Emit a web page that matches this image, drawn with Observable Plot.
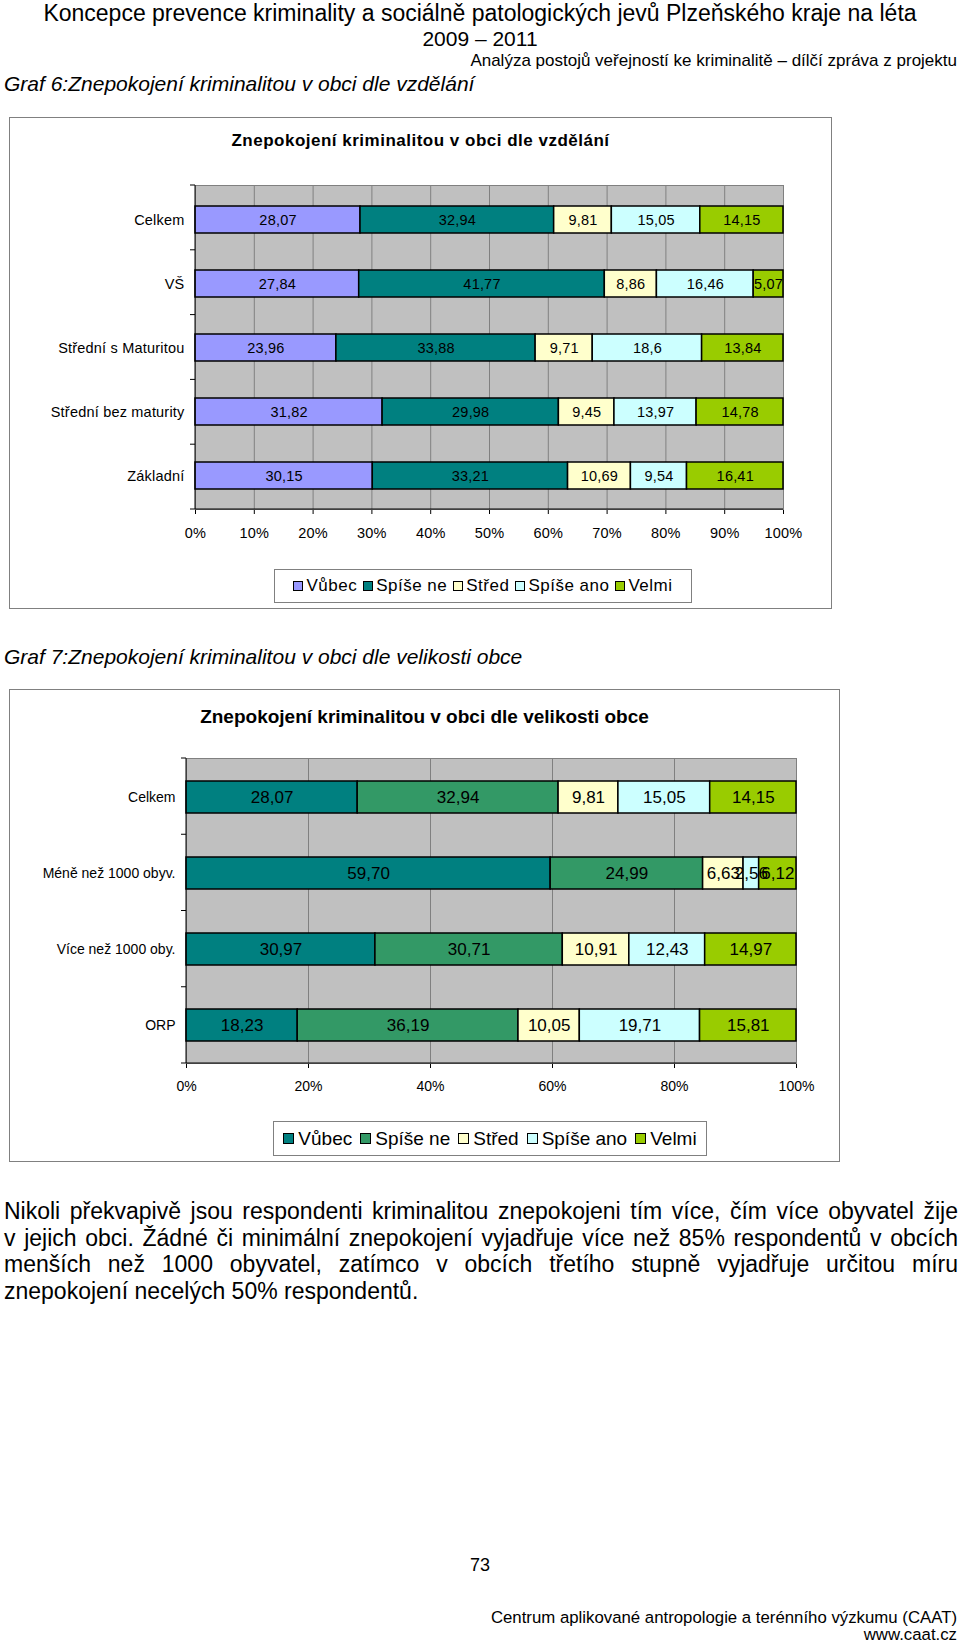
<!DOCTYPE html>
<html><head><meta charset="utf-8">
<script src="https://cdn.jsdelivr.net/npm/d3@7"></script>
<script src="https://cdn.jsdelivr.net/npm/@observablehq/plot@0.6"></script>
<style>
body{margin:0;background:#fff;font-family:"Liberation Sans",Arial,sans-serif;color:#000;}
#page{position:relative;width:960px;height:1641px;overflow:hidden;background:#fff;}
.abs{position:absolute;white-space:nowrap;}
.frame{position:absolute;box-sizing:border-box;border:1px solid #808080;background:#fff;}
.legend{position:absolute;box-sizing:border-box;border:1px solid #808080;background:#fff;display:flex;align-items:center;justify-content:center;}
.legend .it{display:flex;align-items:center;}
.legend .sw{display:inline-block;box-sizing:border-box;border:1px solid #000;}
.pline{position:absolute;left:4px;width:954px;font-size:23px;line-height:27px;white-space:nowrap;}
.just{text-align:justify;text-align-last:justify;}
</style></head><body><div id="page"></div>
<script>
const FONT = '"Liberation Sans", Arial, sans-serif';
const series = ["Vůbec", "Spíše ne", "Střed", "Spíše ano", "Velmi"];

// Graf 6 – podle vzdělání
const eduCategories = ["Celkem", "VŠ", "Střední s Maturitou", "Střední bez maturity", "Základní"];
const eduCelkem = ["28,07", "32,94", "9,81", "15,05", "14,15"];
const eduVS = ["27,84", "41,77", "8,86", "16,46", "5,07"];
const eduSM = ["23,96", "33,88", "9,71", "18,6", "13,84"];
const eduSB = ["31,82", "29,98", "9,45", "13,97", "14,78"];
const eduZakl = ["30,15", "33,21", "10,69", "9,54", "16,41"];
const eduColors = ["#9999ff", "#008080", "#ffffcc", "#ccffff", "#99cc00"];
const eduTickLabels = ["0%", "10%", "20%", "30%", "40%", "50%", "60%", "70%", "80%", "90%", "100%"];

// Graf 7 – podle velikosti obce
const sizeCategories = ["Celkem", "Méně než 1000 obyv.", "Více než 1000 oby.", "ORP"];
const sizeCelkem = ["28,07", "32,94", "9,81", "15,05", "14,15"];
const sizeMene = ["59,70", "24,99", "6,63", "2,56", "6,12"];
const sizeVice = ["30,97", "30,71", "10,91", "12,43", "14,97"];
const sizeORP = ["18,23", "36,19", "10,05", "19,71", "15,81"];
const sizeColors = ["#008080", "#339966", "#ffffcc", "#ccffff", "#99cc00"];
const sizeTickLabels = ["0%", "20%", "40%", "60%", "80%", "100%"];

const num = s => +String(s).replace(",", ".").replace("%", "");
function makeData(categories, rows) {
  return categories.flatMap((c, i) => rows[i].map((v, j) => ({category: c, series: series[j], value: num(v), label: v})));
}

// axis lines + category boundary ticks (Excel style), computed from the plot's dimensions
function excelAxes(nCats) {
  return (index, scales, values, dims) => {
    const {width, height, marginTop, marginRight, marginBottom, marginLeft} = dims;
    const yTop = marginTop, yBot = height - marginBottom, xL = marginLeft, xR = width - marginRight;
    const step = (yBot - yTop) / nCats;
    const g = d3.create("svg:g").attr("stroke", "#000").attr("stroke-width", 1);
    g.append("line").attr("x1", xL).attr("x2", xL).attr("y1", yTop).attr("y2", yBot);
    g.append("line").attr("x1", xL).attr("x2", xR).attr("y1", yBot).attr("y2", yBot);
    for (let i = 0; i <= nCats; i++) {
      const y = yTop + i * step;
      g.append("line").attr("x1", xL - 5).attr("x2", xL).attr("y1", y).attr("y2", y);
    }
    return g.node();
  };
}

function chart({categories, rows, colors, tickLabels, width, height, margins, fontSize, valueSize, tickPadding, letterSpacing, padding}) {
  const data = makeData(categories, rows);
  const ticks = tickLabels.map(t => num(t) / 100);
  return Plot.plot({
    width, height,
    marginLeft: margins[0], marginRight: margins[1], marginTop: margins[2], marginBottom: margins[3],
    style: {fontFamily: FONT, fontSize: fontSize + "px", color: "#000", background: "transparent", overflow: "visible", letterSpacing: letterSpacing + "px"},
    x: {domain: [0, 1], ticks, tickFormat: d => tickLabels[ticks.indexOf(d)] ?? "", tickSize: 5, tickPadding, label: null},
    y: {domain: categories, paddingInner: padding, paddingOuter: padding / 2, tickSize: 0, tickPadding: 11, label: null},
    color: {domain: series, range: colors},
    marks: [
      Plot.frame({fill: "#c0c0c0", stroke: "#808080"}),
      Plot.ruleX(ticks, {stroke: "#808080", strokeWidth: 1}),
      Plot.barX(data, Plot.stackX({x: "value", y: "category", fill: "series", offset: "normalize", stroke: "#000", strokeWidth: 1.5})),
      Plot.text(data, Plot.stackX({x: "value", y: "category", z: "series", offset: "normalize", text: "label", fontSize: valueSize, fill: "#000"})),
      excelAxes(categories.length)
    ]
  });
}

function legend(colors, {fontSize, sw, swGap, itemGap, letterSpacing}) {
  const el = document.createElement("div");
  el.className = "legend";
  el.style.fontSize = fontSize + "px";
  el.style.gap = itemGap + "px";
  el.style.letterSpacing = letterSpacing + "px";
  series.forEach((s, i) => {
    const it = document.createElement("span");
    it.className = "it";
    const box = document.createElement("span");
    box.className = "sw";
    Object.assign(box.style, {background: colors[i], width: sw + "px", height: sw + "px", marginRight: swGap + "px"});
    it.appendChild(box);
    it.appendChild(document.createTextNode(s));
    el.appendChild(it);
  });
  return el;
}

const page = document.getElementById("page");
function put(el, css) { Object.assign(el.style, css); page.appendChild(el); return el; }
function txt(text, css, cls = "abs") { const d = document.createElement("div"); d.className = cls; d.textContent = text; return put(d, css); }

// header
txt("Koncepce prevence kriminality a sociálně patologických jevů Plzeňského kraje na léta", {left: "0px", width: "960px", top: "0px", lineHeight: "26px", fontSize: "23px", textAlign: "center"});
txt("2009 – 2011", {left: "0px", width: "960px", top: "26px", lineHeight: "26px", fontSize: "21px", textAlign: "center"});
txt("Analýza postojů veřejností ke kriminalitě – dílčí zpráva z projektu", {right: "3px", top: "51px", lineHeight: "20px", fontSize: "17px"});
txt("Graf 6:Znepokojení kriminalitou v obci dle vzdělání", {left: "4px", top: "72px", lineHeight: "24px", fontSize: "21px", fontStyle: "italic"});

// chart 1
const f1 = document.createElement("div"); f1.className = "frame";
put(f1, {left: "9px", top: "117px", width: "823px", height: "492px"});
txt("Znepokojení kriminalitou v obci dle vzdělání", {left: "9px", width: "823px", top: "130px", lineHeight: "22px", fontSize: "17px", fontWeight: "bold", textAlign: "center", letterSpacing: "0.5px"});
const c1 = chart({categories: eduCategories, rows: [eduCelkem, eduVS, eduSM, eduSB, eduZakl], colors: eduColors, tickLabels: eduTickLabels,
  width: 832, height: 385, margins: [195, 49, 15, 46], fontSize: 14.5, valueSize: 14.5, tickPadding: 13, letterSpacing: 0.2, padding: 0.58});
put(c1, {position: "absolute", left: "0px", top: "170px"});
put(legend(eduColors, {fontSize: 17, sw: 10, swGap: 3, itemGap: 6, letterSpacing: 0.5}), {left: "274px", top: "569px", width: "418px", height: "34px"});

// chart 2
txt("Graf 7:Znepokojení kriminalitou v obci dle velikosti obce", {left: "4px", top: "645px", lineHeight: "24px", fontSize: "21px", fontStyle: "italic"});
const f2 = document.createElement("div"); f2.className = "frame";
put(f2, {left: "9px", top: "689px", width: "831px", height: "473px"});
txt("Znepokojení kriminalitou v obci dle velikosti obce", {left: "9px", width: "831px", top: "705px", lineHeight: "24px", fontSize: "19px", fontWeight: "bold", textAlign: "center"});
const c2 = chart({categories: sizeCategories, rows: [sizeCelkem, sizeMene, sizeVice, sizeORP], colors: sizeColors, tickLabels: sizeTickLabels,
  width: 840, height: 370, margins: [186, 44, 13, 52], fontSize: 14, valueSize: 17, tickPadding: 13, letterSpacing: 0, padding: 0.58});
put(c2, {position: "absolute", left: "0px", top: "745px"});
put(legend(sizeColors, {fontSize: 19, sw: 11, swGap: 4, itemGap: 8, letterSpacing: 0}), {left: "273px", top: "1121px", width: "434px", height: "35px"});

// paragraph
const lines = [
  "Nikoli překvapivě jsou respondenti kriminalitou znepokojeni tím více, čím více obyvatel žije",
  "v jejich obci. Žádné či minimální znepokojení vyjadřuje více než 85% respondentů v obcích",
  "menších než 1000 obyvatel, zatímco v obcích třetího stupně vyjadřuje určitou míru",
  "znepokojení necelých 50% respondentů."
];
lines.forEach((l, i) => txt(l, {top: (1198 + i * 26.7) + "px"}, i < 3 ? "pline just" : "pline"));

// footer
txt("73", {left: "0px", width: "960px", top: "1554px", lineHeight: "22px", fontSize: "18px", textAlign: "center"});
txt("Centrum aplikované antropologie a terénního výzkumu (CAAT)", {right: "3px", top: "1608px", lineHeight: "20px", fontSize: "16.8px"});
txt("www.caat.cz", {right: "3px", top: "1625px", lineHeight: "20px", fontSize: "16.8px"});
</script></body></html>
